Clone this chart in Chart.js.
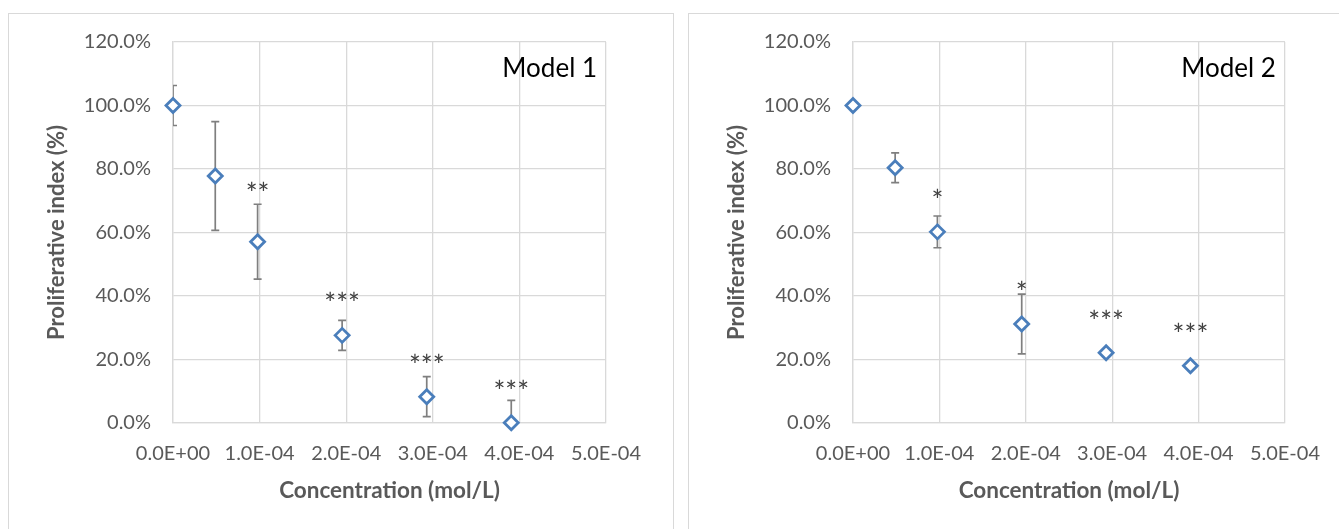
<!DOCTYPE html>
<html>
<head>
<meta charset="utf-8">
<script src="https://cdn.jsdelivr.net/npm/chart.js@4/dist/chart.umd.min.js"></script>
<style>
	html, body { margin: 0; padding: 0; background: #fff; overflow: hidden; }
	body { width: 1339px; height: 529px; position: relative; }
	.frame { position: absolute; top: 13px; height: 540px; border: 1px solid #d9d9d9; box-sizing: border-box; }
	#f1 { left: 8px; width: 666px; }
	#f2 { left: 688px; width: 700px; }
	.wrap { position: absolute; top: 0; height: 529px; }
	#w1 { left: 0; width: 673px; }
	#w2 { left: 680px; width: 659px; }
</style>
</head>
<body>
<div class="frame" id="f1"></div>
<div class="frame" id="f2"></div>
<div class="wrap" id="w1"><canvas id="c1"></canvas></div>
<div class="wrap" id="w2"><canvas id="c2"></canvas></div>
<script>
// concentration (mol/L)
const conc = [0, 4.88e-5, 9.77e-5, 1.953e-4, 2.93e-4, 3.906e-4];

// model 1
const model1 = [100, 77.8, 57.1, 27.6, 8.3, 0.1];
const model1Err = [6.3, 17.1, 11.8, 4.7, 6.3, 7.0];
const model1Stars = ['', '', '**', '***', '***', '***'];

// model 2
const model2 = [100, 80.4, 60.2, 31.2, 22.1, 18.0];
const model2Err = [0, 4.7, 5.0, 9.4, 0, 0];
const model2Stars = ['', '', '*', '*', '***', '***'];

const FONT = 'Lato, "Noto Sans", sans-serif';

// error bars, drawn under the markers
const errorBars = {
	id: 'errorBars',
	beforeDatasetsDraw(chart) {
		const { ctx, chartArea, scales: { x, y } } = chart;
		const err = chart.options.plugins.errorBars.values;
		const vals = chart.data.datasets[0].data;
		ctx.save();
		ctx.beginPath();
		ctx.rect(chartArea.left, chartArea.top, chartArea.width, chartArea.height);
		ctx.clip();
		ctx.strokeStyle = '#7f7f7f';
		ctx.lineWidth = 1.7;
		vals.forEach((p, i) => {
			if (!err[i]) return;
			const px = x.getPixelForValue(p.x),
				top = y.getPixelForValue(p.y + err[i]),
				bot = y.getPixelForValue(p.y - err[i]);
			ctx.beginPath();
			ctx.moveTo(px, top); ctx.lineTo(px, bot);
			ctx.moveTo(px - 4, top); ctx.lineTo(px + 4, top);
			ctx.moveTo(px - 4, bot); ctx.lineTo(px + 4, bot);
			ctx.stroke();
		});
		ctx.restore();
	}
};

// significance stars + model name
const annotations = {
	id: 'annotations',
	afterDatasetsDraw(chart) {
		const { ctx, chartArea, scales: { x, y } } = chart;
		const opts = chart.options.plugins.annotations;
		const err = chart.options.plugins.errorBars.values;
		const vals = chart.data.datasets[0].data;
		ctx.save();
		ctx.font = '28px ' + FONT;
		ctx.fillStyle = '#404040';
		ctx.textAlign = 'center';
		ctx.textBaseline = 'middle';
		vals.forEach((p, i) => {
			const s = opts.stars[i];
			if (!s) return;
			const px = x.getPixelForValue(p.x);
			let py = y.getPixelForValue(p.y) - 38;
			const errTop = y.getPixelForValue(p.y + err[i]);
			if (err[i] && py > errTop - 6) py = errTop - 17;
			ctx.fillText(s, px, py + 8);
		});
		ctx.font = '26px ' + FONT;
		ctx.fillStyle = '#000';
		ctx.textAlign = 'right';
		ctx.textBaseline = 'alphabetic';
		ctx.fillText(opts.title, chartArea.right - 9, chartArea.top + 35);
		ctx.restore();
	}
};

function makeChart(canvasId, values, errs, stars, title, padRight) {
	const grid = { color: '#d9d9d9', lineWidth: 1.3, drawTicks: false };
	return new Chart(document.getElementById(canvasId), {
		type: 'scatter',
		data: {
			datasets: [{
				data: conc.map((c, i) => ({ x: c, y: values[i] })),
				pointStyle: 'rectRot',
				pointRadius: 7,
				pointHoverRadius: 7,
				pointBorderWidth: 2.8,
				pointBorderColor: '#4a7ebb',
				pointBackgroundColor: '#ffffff',
				clip: false
			}]
		},
		options: {
			responsive: true,
			maintainAspectRatio: false,
			animation: false,
			layout: { padding: { top: 42, right: padRight, bottom: 0, left: 0 } },
			scales: {
				x: {
					type: 'linear',
					min: 0,
					max: 5e-4,
					grid,
					border: { color: '#d9d9d9', width: 1.3 },
					afterFit: s => { s.height = 106; },
					ticks: {
						stepSize: 1e-4,
						padding: 19,
						color: '#595959',
						font: { family: FONT, size: 20 },
						maxRotation: 0,
						callback: v => {
							const [m, e] = Number(v).toExponential(1).split('e');
							const n = parseInt(e, 10);
							return m + 'E' + (n < 0 ? '-' : '+') + String(Math.abs(n)).padStart(2, '0');
						}
					},
					title: {
						display: true,
						text: 'Concentration (mol/L)',
						color: '#595959',
						font: { family: FONT, size: 22.5, weight: 'bold' },
						padding: { top: 0, bottom: 24.5 }
					}
				},
				y: {
					min: 0,
					max: 120,
					grid,
					border: { color: '#d9d9d9', width: 1.3 },
					afterFit: s => { s.width = 173; },
					ticks: {
						stepSize: 20,
						padding: 22,
						color: '#595959',
						font: { family: FONT, size: 20 },
						callback: v => v.toFixed(1) + '%'
					},
					title: {
						display: true,
						text: 'Proliferative index (%)',
						color: '#595959',
						font: { family: FONT, size: 22, weight: 'bold' },
						padding: { top: 43.5, bottom: 0 }
					}
				}
			},
			plugins: {
				legend: { display: false },
				tooltip: { enabled: false },
				errorBars: { values: errs },
				annotations: { stars, title }
			}
		},
		plugins: [errorBars, annotations]
	});
}

makeChart('c1', model1, model1Err, model1Stars, 'Model 1', 67);
makeChart('c2', model2, model2Err, model2Stars, 'Model 2', 53);
</script>
</body>
</html>
